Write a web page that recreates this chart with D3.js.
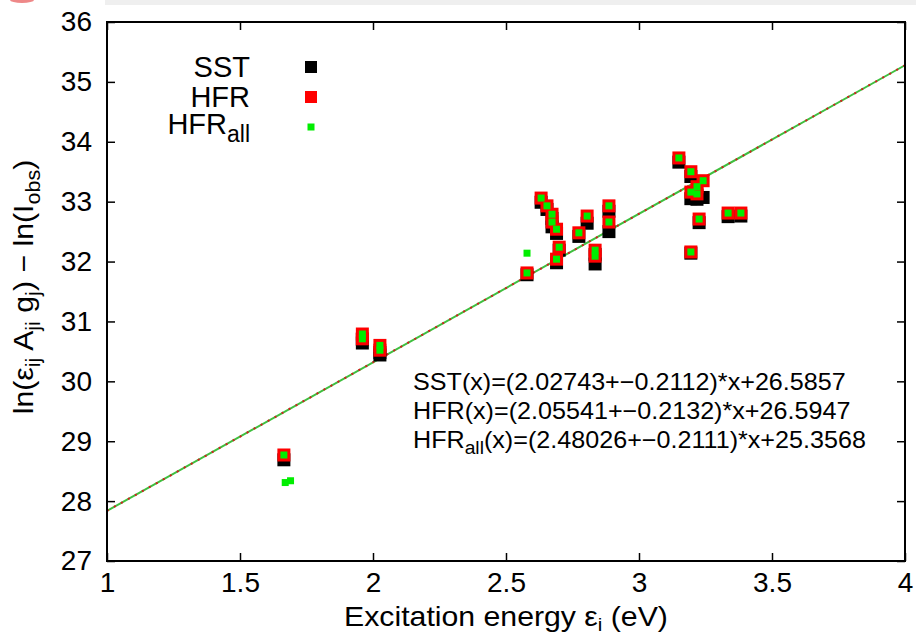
<!DOCTYPE html>
<html>
<head>
<meta charset="utf-8">
<script src="https://cdn.jsdelivr.net/npm/d3@7"></script>
<style>
body { margin: 0; background: #fff; }
text { font-family: "Liberation Sans", Arial, sans-serif; fill: #000; }
</style>
</head>
<body>
<div id="chart-area"></div>
<script>
// excitation energies (eV) of the lines
var energy = [1.665, 1.960, 1.960, 2.026, 2.026, 2.579, 2.632, 2.654, 2.673, 2.673,
	2.690, 2.700, 2.690, 2.774, 2.805, 2.835, 2.835, 2.887, 2.887, 3.150,
	3.195, 3.241, 3.218, 3.195, 3.218, 3.226, 3.335, 3.383, 3.195];
var sst = [28.69, 30.70, 30.64, 30.48, 30.44, 31.78, 32.99, 32.87, 32.72, 32.58,
	32.47, 32.19, 31.98, 32.42, 32.64, 32.12, 31.96, 32.84, 32.50, 33.66,
	33.42, 33.07, 33.10, 33.05, 33.04, 32.65, 32.75, 32.76, 32.14];
var hfr = [28.77, 30.79, 30.71, 30.60, 30.52, 31.81, 33.06, 32.93, 32.79, 32.66,
	32.54, 32.24, 32.04, 32.48, 32.76, 32.19, 32.09, 32.93, 32.66, 33.73,
	33.50, 33.35, 33.25, 33.16, 33.13, 32.71, 32.81, 32.81, 32.16];
// HFR_all has the same lines plus a few extra ones
var extraEnergy = [2.579, 1.670, 1.690];
var extraHfrAll = [32.14, 28.31, 28.34];

var fitNames = ["SST", "HFR", "HFR_all"];
var fitSlope = ["2.02743", "2.05541", "2.48026"];
var fitErr = ["0.2112", "0.2132", "0.2111"];
var fitIcpt = ["26.5857", "26.5947", "25.3568"];

var xTicks = [1, 1.5, 2, 2.5, 3, 3.5, 4];
var yTicks = [27, 28, 29, 30, 31, 32, 33, 34, 35, 36];

var W = 916, H = 634;
var margin = {top: 22, right: 11, bottom: 73, left: 107};
var width = W - margin.left - margin.right;
var height = H - margin.top - margin.bottom;

var svg = d3.select("#chart-area").append("svg")
	.attr("width", W)
	.attr("height", H);

// screenshot strip on top
svg.append("rect").attr("x", 105).attr("y", 0).attr("width", W - 105).attr("height", 5).attr("fill", "#efefef");
svg.append("ellipse").attr("cx", 22).attr("cy", 0).attr("rx", 12).attr("ry", 3).attr("fill", "#e88");

var group = svg.append("g")
	.attr("transform", "translate(" + margin.left + "," + margin.top + ")");

var x = d3.scaleLinear().domain([1, 4]).range([0, width]);
var y = d3.scaleLinear().domain([27, 36]).range([height, 0]);

// ticks (inward, mirrored)
group.append("g").attr("transform", "translate(0," + height + ")")
	.call(d3.axisBottom(x).tickValues(xTicks).tickSizeInner(-8).tickSizeOuter(0).tickPadding(11).tickFormat(d3.format("")))
	.call(g => g.select(".domain").remove());
group.append("g")
	.call(d3.axisTop(x).tickValues(xTicks).tickSizeInner(-8).tickSizeOuter(0).tickFormat(""))
	.call(g => g.select(".domain").remove());
group.append("g")
	.call(d3.axisLeft(y).tickValues(yTicks).tickSizeInner(-8).tickSizeOuter(0).tickPadding(15))
	.call(g => g.select(".domain").remove());
group.append("g").attr("transform", "translate(" + width + ",0)")
	.call(d3.axisRight(y).tickValues(yTicks).tickSizeInner(-8).tickSizeOuter(0).tickFormat(""))
	.call(g => g.select(".domain").remove());
group.selectAll(".tick line").attr("stroke", "#000").attr("stroke-width", 1.5);
group.selectAll(".tick text").attr("font-size", "28px").attr("font-family", "Liberation Sans, Arial, sans-serif").attr("fill", "#000");

// fit line of HFR_all
var k = +fitSlope[2], b = +fitIcpt[2];
var line = d3.line().x(d => x(d)).y(d => y(k * d + b));
group.append("path").datum([1, 4]).attr("d", line)
	.attr("fill", "none").attr("stroke", "#3fbf3f").attr("stroke-width", 2);
group.append("path").datum([1, 4]).attr("d", line)
	.attr("fill", "none").attr("stroke", "#d02020").attr("stroke-width", 2).attr("stroke-dasharray", "2,6");

// points
var s1 = 13, s3 = 7;
group.selectAll(".sst").data(energy).enter().append("rect")
	.attr("x", (d) => x(d) - s1 / 2)
	.attr("y", (d, i) => y(sst[i]) - s1 / 2)
	.attr("width", s1).attr("height", s1).attr("fill", "#000");
group.selectAll(".hfr").data(energy).enter().append("rect")
	.attr("x", (d) => x(d) - s1 / 2)
	.attr("y", (d, i) => y(hfr[i]) - s1 / 2)
	.attr("width", s1).attr("height", s1).attr("fill", "#ff0000");
var allE = energy.concat(extraEnergy);
var allV = hfr.concat(extraHfrAll);
group.selectAll(".all").data(allE).enter().append("rect")
	.attr("x", (d) => x(d) - s3 / 2)
	.attr("y", (d, i) => y(allV[i]) - s3 / 2)
	.attr("width", s3).attr("height", s3).attr("fill", "#00ee00");

// frame
group.append("rect").attr("width", width).attr("height", height)
	.attr("fill", "none").attr("stroke", "#000").attr("stroke-width", 2);

// legend
var leg = svg.append("g");
var legY = [67, 97, 127];
var legColor = ["#000", "#ff0000", "#00ee00"];
var legSize = [12, 12, 7];
leg.selectAll("rect").data(legY).enter().append("rect")
	.attr("x", (d, i) => 311 - legSize[i] / 2)
	.attr("y", (d, i) => d - legSize[i] / 2)
	.attr("width", (d, i) => legSize[i]).attr("height", (d, i) => legSize[i])
	.attr("fill", (d, i) => legColor[i]);
leg.append("text").attr("x", 250).attr("y", 77).attr("text-anchor", "end").attr("font-size", "29px").text("SST");
leg.append("text").attr("x", 250).attr("y", 107).attr("text-anchor", "end").attr("font-size", "29px").text("HFR");
var t3 = leg.append("text").attr("x", 250).attr("y", 134).attr("text-anchor", "end").attr("font-size", "29px");
t3.append("tspan").text("HFR");
t3.append("tspan").attr("dy", 8).attr("font-size", "23px").text("all");

// fit texts
var fitY = [390, 419, 448];
fitNames.forEach((n, i) => {
	var t = svg.append("text").attr("transform", "translate(413," + fitY[i] + ") scale(1.07,1)").attr("font-size", "23.5px");
	if (n == "HFR_all") {
		t.append("tspan").text("HFR");
		t.append("tspan").attr("dy", 6).attr("font-size", "18px").text("all");
		t.append("tspan").attr("dy", -6).text("(x)=(" + fitSlope[i] + "+\u2212" + fitErr[i] + ")*x+" + fitIcpt[i]);
	} else {
		t.text(n + "(x)=(" + fitSlope[i] + "+\u2212" + fitErr[i] + ")*x+" + fitIcpt[i]);
	}
});

// axis labels
var xl = svg.append("text").attr("transform", "translate(506,626) scale(1.08,1)").attr("text-anchor", "middle").attr("font-size", "28px");
xl.append("tspan").text("Excitation energy \u03b5");
xl.append("tspan").attr("dy", 5).attr("font-size", "19px").text("i");
xl.append("tspan").attr("dy", -5).text(" (eV)");

var yl = svg.append("text").attr("transform", "translate(33,287) rotate(-90) scale(1.08,1)").attr("text-anchor", "middle").attr("font-size", "28px");
yl.append("tspan").text("ln(\u03b5");
yl.append("tspan").attr("dy", 7).attr("font-size", "20px").text("ij");
yl.append("tspan").attr("dy", -7).text(" A");
yl.append("tspan").attr("dy", 7).attr("font-size", "20px").text("ji");
yl.append("tspan").attr("dy", -7).text(" g");
yl.append("tspan").attr("dy", 7).attr("font-size", "20px").text("j");
yl.append("tspan").attr("dy", -7).text(") \u2212 ln(I");
yl.append("tspan").attr("dy", 7).attr("font-size", "20px").text("obs");
yl.append("tspan").attr("dy", -7).text(")");
</script>
</body>
</html>
